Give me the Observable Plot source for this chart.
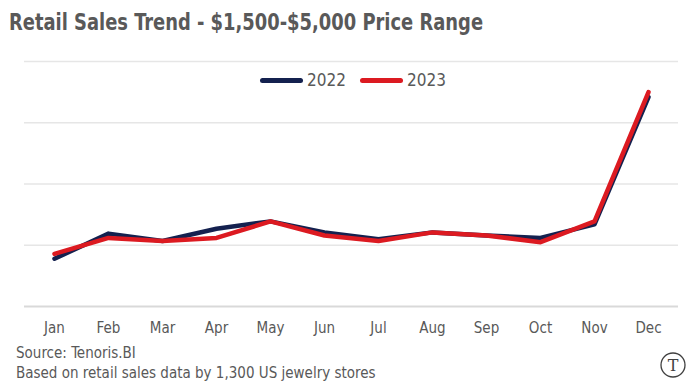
<!DOCTYPE html>
<html><head><meta charset="utf-8">
<script src="https://cdn.jsdelivr.net/npm/d3@7"></script>
<script src="https://cdn.jsdelivr.net/npm/@observablehq/plot@0.6"></script>
<style>
html,body{margin:0;padding:0;background:#fff;}
#wrap{position:relative;width:697px;height:392px;overflow:hidden;font-family:"DejaVu Sans Condensed",sans-serif;color:#595959;}
#title{position:absolute;left:9px;top:9px;font-size:23px;font-weight:bold;white-space:nowrap;transform:scaleX(0.865);transform-origin:0 0;}
#chart{position:absolute;left:0;top:45px;}
#legend{position:absolute;top:70px;left:0;width:697px;font-size:17px;}
.li{position:absolute;top:0;display:flex;align-items:center;height:20px;}
.sw{width:43px;height:5px;border-radius:3px;margin-right:4px;}
#cap{position:absolute;left:16px;top:343px;font-size:15px;line-height:20px;}
#logo{position:absolute;left:659px;top:351px;}
</style></head>
<body><div id="wrap">
<div id="title">Retail Sales Trend - $1,500-$5,000 Price Range</div>
<div id="chart"></div>
<div id="legend">
 <div class="li" style="left:260px"><div class="sw" style="background:#14214f"></div>2022</div>
 <div class="li" style="left:360px"><div class="sw" style="background:#dc1a21"></div>2023</div>
</div>
<div id="cap">Source: Tenoris.BI<br>Based on retail sales data by 1,300 US jewelry stores</div>
<svg id="logo" width="28" height="28" viewBox="0 0 28 28"><circle cx="14" cy="14" r="12" fill="none" stroke="#404040" stroke-width="1.3"/><text x="14" y="20" text-anchor="middle" font-family="DejaVu Serif, serif" font-size="16" fill="#404040">T</text></svg>
</div>
<script>
const months = ["Jan","Feb","Mar","Apr","May","Jun","Jul","Aug","Sep","Oct","Nov","Dec"];
const sales2022 = [0.78, 1.19, 1.07, 1.27, 1.39, 1.21, 1.10, 1.21, 1.16, 1.12, 1.34, 3.42];
const sales2023 = [0.86, 1.12, 1.07, 1.12, 1.39, 1.16, 1.07, 1.21, 1.16, 1.05, 1.39, 3.50];
const gridTicks = [0, 1, 2, 3, 4];

const data = [
  ...months.map((m, i) => ({month: m, value: sales2022[i], year: "2022"})),
  ...months.map((m, i) => ({month: m, value: sales2023[i], year: "2023"}))
];

const chart = Plot.plot({
  width: 697,
  height: 300,
  marginTop: 16,
  marginBottom: 39,
  marginLeft: 24,
  marginRight: 19,
  style: {fontFamily: "'DejaVu Sans Condensed',sans-serif", fontSize: "15px", color: "#595959", background: "transparent"},
  x: {type: "point", domain: months, padding: 0.5, label: null},
  y: {domain: [0, 4], axis: null},
  color: {domain: ["2022", "2023"], range: ["#14214f", "#dc1a21"]},
  marks: [
    Plot.ruleY(gridTicks.filter(d => d > 0), {stroke: "#e6e6e6", strokeWidth: 1.5}),
    Plot.ruleY([0], {stroke: "#d9d9d9", strokeWidth: 2}),
    Plot.axisX({tickSize: 0, tickPadding: 16, label: null, fontSize: 15}),
    Plot.line(data, {x: "month", y: "value", z: "year", stroke: "year", strokeWidth: 4.5, strokeLinecap: "round", strokeLinejoin: "round"})
  ]
});
document.getElementById("chart").appendChild(chart);
</script>
</body></html>
